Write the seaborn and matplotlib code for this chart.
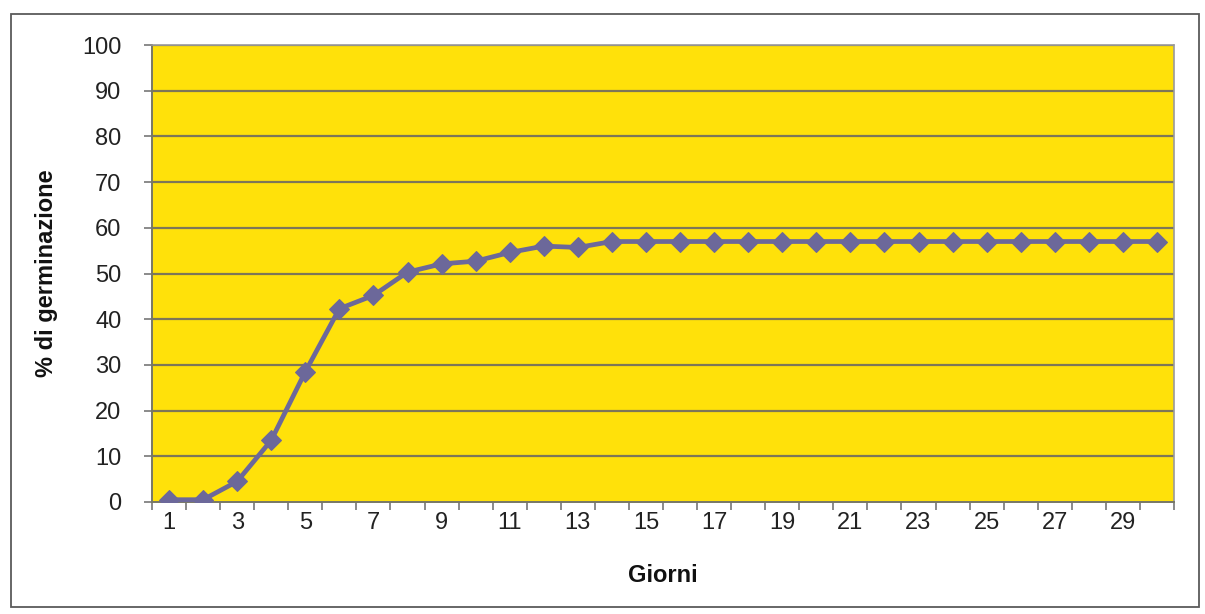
import matplotlib
matplotlib.use("Agg")
import matplotlib.pyplot as plt
from matplotlib.patches import Rectangle
import seaborn as sns
import pandas as pd
import numpy as np

giorni = list(range(1, 31))
germinazione = [0.5, 0.5, 4.5, 13.5, 28.5, 42.3, 45.2, 50.3, 52.1, 52.7, 54.6, 56.0, 55.7,
                57.0, 57.0, 57.0, 57.0, 57.0, 57.0, 57.0, 57.0, 57.0, 57.0, 57.0, 57.0,
                57.0, 57.0, 57.0, 57.0, 57.0]
x_tick_labels = [str(d) for d in range(1, 30, 2)]
y_ticks = list(range(0, 101, 10))

df = pd.DataFrame({"Giorni": giorni, "Germinazione": germinazione})

sns.set_theme(style="white")
plt.rcParams['font.family'] = ['Liberation Sans', 'DejaVu Sans']

fig = plt.figure(figsize=(12.05, 6.14), dpi=100)
ax = fig.add_axes([152 / 1205, 1 - 502 / 614, (1174 - 152) / 1205, (502 - 45) / 614])

# outer chart border
fig.patches.append(Rectangle((11 / 1205, 1 - 607 / 614), (1199 - 11) / 1205, (607 - 14) / 614,
                             transform=fig.transFigure, fill=False, edgecolor='#5a5a5a',
                             linewidth=1.3))

ax.set_facecolor('#FFE10A')
ax.set_xlim(0.5, 30.5)
ax.set_ylim(0, 100)

for y in y_ticks[1:]:
    ax.axhline(y, color='#7d7658', linewidth=1.6, zorder=1)

sns.lineplot(data=df, x="Giorni", y="Germinazione", ax=ax, color='#6C689A',
             linewidth=3.4, marker='D', markersize=10, markeredgecolor='#6C689A',
             zorder=3)

ax.set_xticks(list(range(1, 30, 2)))
ax.set_xticklabels(x_tick_labels)
ax.set_xticks(np.arange(0.5, 31, 1), minor=True)
ax.set_yticks(y_ticks)
ax.tick_params(axis='x', which='major', length=0, pad=7, labelsize=17, colors='#222222')
ax.tick_params(axis='x', which='minor', length=6, width=1.2, color='#777777', direction='out',
               bottom=True)
ax.tick_params(axis='y', which='major', length=6, width=1.2, color='#777777', direction='out',
               left=True, pad=16, labelsize=17, labelcolor='#222222')

for side in ['left', 'bottom']:
    ax.spines[side].set_color('#777766')
    ax.spines[side].set_linewidth(1.4)
for side in ['top', 'right']:
    ax.spines[side].set_color('#999999')
    ax.spines[side].set_linewidth(1.2)
    ax.spines[side].set_linestyle((0, (1, 1)))

ax.set_xlabel("Giorni", fontsize=17, fontweight='bold', labelpad=22, color='#111111')
ax.set_ylabel("% di germinazione", fontsize=17, fontweight='bold', labelpad=17, color='#111111')

fig.savefig("out.png", dpi=100)
